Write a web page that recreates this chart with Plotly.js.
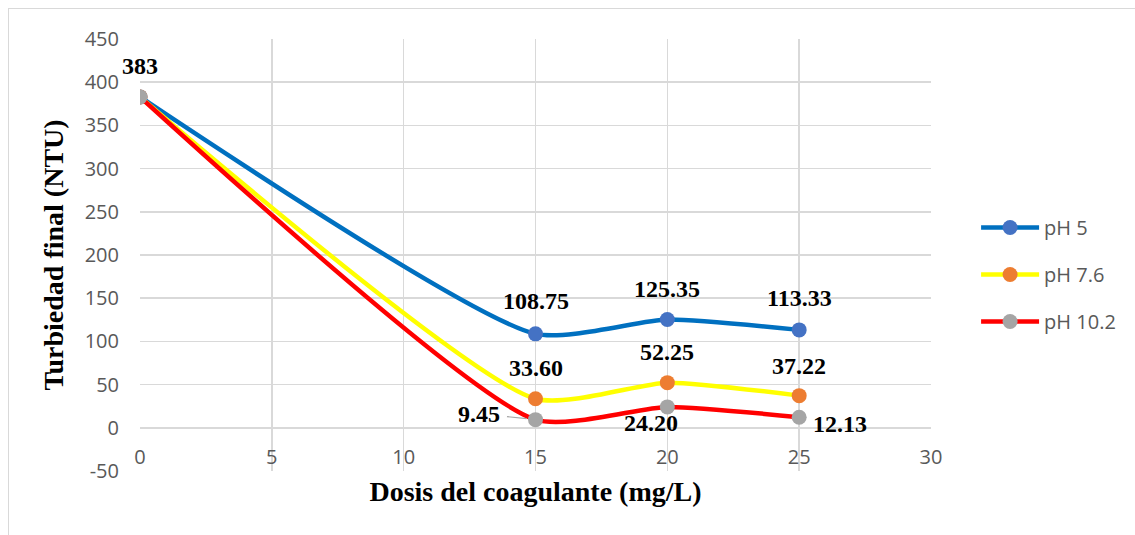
<!DOCTYPE html>
<html>
<head>
<meta charset="utf-8">
<script src="https://cdn.plot.ly/plotly-3.0.1.min.js"></script>
<style>
  html, body { margin: 0; padding: 0; background: #ffffff; overflow: hidden; }
  #chart { width: 1135px; height: 535px; }
  #frame { position: absolute; left: 8px; top: 8px; width: 2000px; height: 2000px;
           border-left: 1.5px solid #d9d9d9; border-top: 1.5px solid #d9d9d9; pointer-events: none; }
</style>
</head>
<body>
<div id="chart"></div>
<div id="frame"></div>
<script>
// ---- data ----
const doses = [0, 15, 20, 25];
const seriesNames = ["pH 5", "pH 7.6", "pH 10.2"];
const ph5 = [383, 108.75, 125.35, 113.33];
const ph76 = [383, 33.60, 52.25, 37.22];
const ph102 = [383, 9.45, 24.20, 12.13];
const ph5Labels = ["383", "108.75", "125.35", "113.33"];
const ph76Labels = ["", "33.60", "52.25", "37.22"];
const ph102Labels = ["", "9.45", "24.20", "12.13"];
const xTicks = [0, 5, 10, 15, 20, 25, 30];
const yTicks = [-50, 0, 50, 100, 150, 200, 250, 300, 350, 400, 450];

// ---- styles ----
const lineColors = ["#0070C0", "#FFFF00", "#FF0000"];
const markerColors = ["#4472C4", "#ED7D31", "#A5A5A5"];
const allValues = [ph5, ph76, ph102];
const allLabels = [ph5Labels, ph76Labels, ph102Labels];
// label offsets [xshift, yshift] per series per point
const offsets = [
  [[0, 31], [0, 33], [0, 31], [0, 32]],
  [[0, 31], [0, 31], [0, 31], [0, 30]],
  [[0, 31], [-57, 6], [-16, -16], [41, -7]]
];
// labels drawn with a leader line
const leader = [[false, false, false, false], [false, false, false, false], [false, true, false, false]];

const traces = allValues.map((vals, i) => ({
  type: "scatter",
  mode: "lines+markers",
  name: seriesNames[i],
  legendgroup: "g" + i,
  x: doses,
  y: vals,
  line: { color: lineColors[i], width: 4.5, shape: "spline", smoothing: 0.6 },
  marker: { color: markerColors[i], size: 15 },
  hoverinfo: "x+y"
}));

const labelFont = { family: "Liberation Serif", size: 24, color: "#000000", weight: "bold" };
const annotations = [];
allValues.forEach((vals, i) => {
  vals.forEach((v, j) => {
    if (!allLabels[i][j]) return;
    const [dx, dy] = offsets[i][j];
    if (leader[i][j]) {
      annotations.push({
        x: doses[j], y: v, xref: "x", yref: "y",
        text: allLabels[i][j], showarrow: true, arrowhead: 0,
        arrowwidth: 1.2, arrowcolor: "#a6a6a6",
        ax: dx, ay: -dy, standoff: 9, startstandoff: 6,
        xanchor: "center", yanchor: "middle",
        font: labelFont
      });
    } else {
      annotations.push({
        x: doses[j], y: v, xref: "x", yref: "y",
        text: allLabels[i][j], showarrow: false,
        xanchor: "center", yanchor: "middle",
        xshift: dx, yshift: dy,
        font: labelFont
      });
    }
  });
});

const gridColor = "#d9d9d9";
const layout = {
  width: 1135, height: 535,
  margin: { l: 140, r: 204, t: 39, b: 64 },
  paper_bgcolor: "rgba(0,0,0,0)",
  plot_bgcolor: "#ffffff",
  showlegend: true,
  legend: {
    x: 1.057, y: 0.455, xanchor: "left", yanchor: "middle",
    font: { family: "Open Sans", size: 20, color: "#595959" },
    traceorder: "grouped", tracegroupgap: 18, itemwidth: 58,
    bgcolor: "rgba(0,0,0,0)"
  },
  xaxis: {
    range: [0, 30], tickvals: xTicks, ticktext: xTicks.map(String),
    showgrid: true, gridcolor: gridColor, gridwidth: 1.5,
    zeroline: false, showline: false, ticks: "",
    ticklabelposition: "inside", ticklabeloverflow: "allow",
    tickfont: { family: "Open Sans", size: 20, color: "#595959" },
    title: { text: "Dosis del coagulante (mg/L)", standoff: 12,
             font: { family: "Liberation Serif", size: 28, color: "#000000", weight: "bold" } }
  },
  yaxis: {
    range: [-50, 450], tickvals: yTicks, ticktext: yTicks.map(String),
    showgrid: true, gridcolor: gridColor, gridwidth: 1.5,
    zeroline: false, showline: false, ticks: "",
    ticklabelstandoff: 20,
    tickfont: { family: "Open Sans", size: 20, color: "#595959" },
    title: { text: "Turbiedad final (NTU)", standoff: 12,
             font: { family: "Liberation Serif", size: 28, color: "#000000", weight: "bold" } }
  },
  annotations: annotations
};

Plotly.newPlot("chart", traces, layout, { displayModeBar: false, staticPlot: true });
</script>
</body>
</html>
